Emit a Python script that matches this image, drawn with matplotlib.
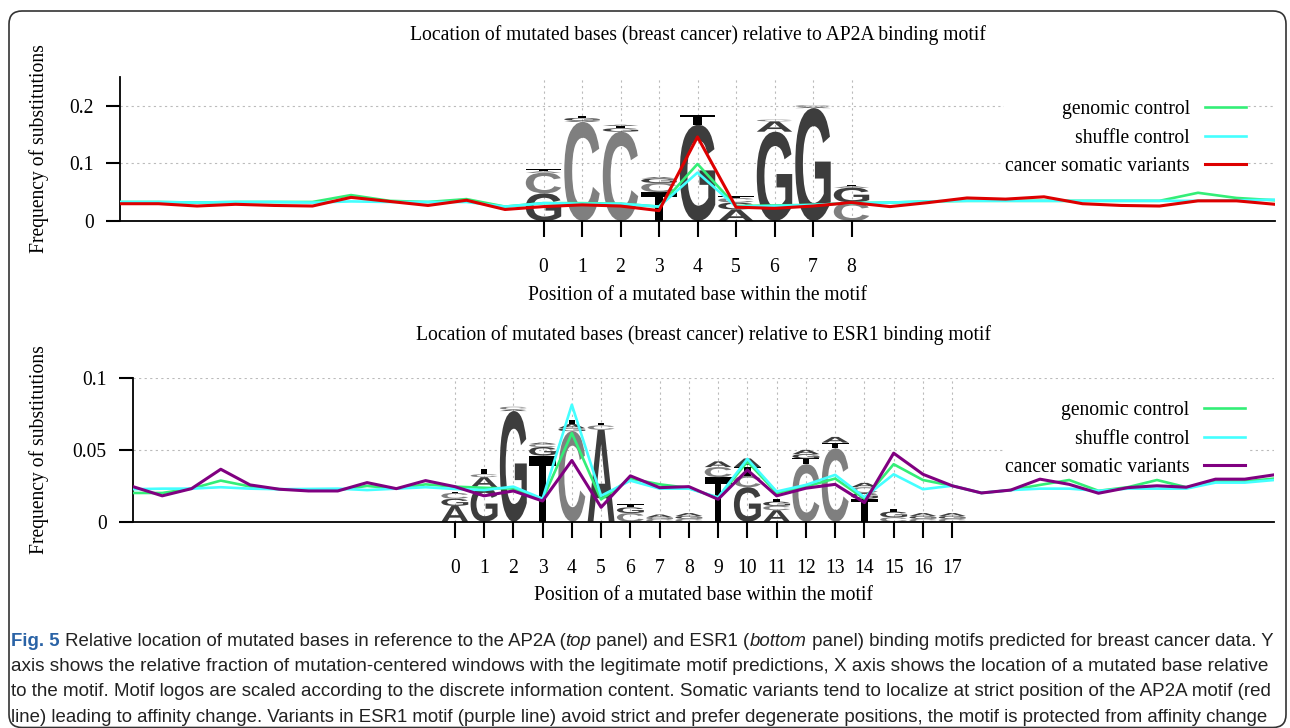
import matplotlib
matplotlib.use("Agg")
import matplotlib.pyplot as plt
import matplotlib.transforms as mtransforms
from matplotlib.textpath import TextPath
from matplotlib.patches import PathPatch, FancyBboxPatch
from matplotlib.font_manager import FontProperties

plt.rcParams['font.family'] = ['Liberation Serif', 'DejaVu Serif']

# ---- data: AP2A panel (positions -11 .. 19) ----
ap2a_pos = list(range(-11, 20))
ap2a_genomic = [0.033, 0.033, 0.032, 0.033, 0.033, 0.033, 0.045, 0.035, 0.033, 0.038, 0.025,
                0.031, 0.031, 0.030, 0.025, 0.099, 0.026, 0.027, 0.028, 0.031, 0.032, 0.034,
                0.035, 0.035, 0.035, 0.035, 0.035, 0.035, 0.049, 0.040, 0.036]
ap2a_shuffle = [0.033, 0.033, 0.032, 0.033, 0.033, 0.032, 0.034, 0.033, 0.033, 0.033, 0.025,
                0.031, 0.030, 0.030, 0.025, 0.084, 0.025, 0.026, 0.028, 0.031, 0.032, 0.034,
                0.035, 0.035, 0.035, 0.035, 0.035, 0.035, 0.035, 0.036, 0.037]
ap2a_cancer = [0.030, 0.030, 0.026, 0.029, 0.027, 0.026, 0.041, 0.034, 0.027, 0.036, 0.020,
               0.025, 0.028, 0.026, 0.018, 0.146, 0.024, 0.022, 0.026, 0.032, 0.025, 0.032,
               0.040, 0.038, 0.042, 0.030, 0.027, 0.026, 0.035, 0.035, 0.029]
ap2a_logo = [
    [('G', 0.048), ('C', 0.036), ('A', 0.002), ('T', 0.004)],
    [('C', 0.172), ('A', 0.002), ('G', 0.005), ('T', 0.004)],
    [('C', 0.155), ('G', 0.006), ('T', 0.004), ('A', 0.002)],
    [('T', 0.050), ('C', 0.016), ('G', 0.008), ('A', 0.002)],
    [('G', 0.167), ('T', 0.017)],
    [('A', 0.020), ('G', 0.012), ('C', 0.008), ('T', 0.003)],
    [('G', 0.155), ('A', 0.018), ('C', 0.003)],
    [('G', 0.196), ('A', 0.002), ('C', 0.003)],
    [('C', 0.032), ('G', 0.026), ('A', 0.002), ('T', 0.003)],
]

# ---- data: ESR1 panel (positions -11 .. 28) ----
esr1_pos = list(range(-11, 29))
esr1_genomic = [0.020, 0.020, 0.023, 0.0286, 0.0245, 0.0226, 0.022, 0.022, 0.0249, 0.023,
                0.026, 0.0244, 0.0236, 0.023, 0.0155, 0.0616, 0.0155, 0.030, 0.026, 0.0235,
                0.0165, 0.0419, 0.020, 0.0245, 0.030, 0.016, 0.040, 0.029, 0.025, 0.020,
                0.022, 0.0256, 0.029, 0.0215, 0.024, 0.029, 0.024, 0.028, 0.028, 0.030]
esr1_shuffle = [0.0226, 0.023, 0.023, 0.024, 0.023, 0.0226, 0.0228, 0.023, 0.022, 0.023,
                0.024, 0.0228, 0.022, 0.0244, 0.016, 0.0814, 0.018, 0.0286, 0.023, 0.023,
                0.017, 0.0437, 0.021, 0.0256, 0.0326, 0.017, 0.033, 0.0226, 0.025, 0.020,
                0.022, 0.023, 0.023, 0.0215, 0.023, 0.023, 0.023, 0.0272, 0.0272, 0.029]
esr1_cancer = [0.0244, 0.018, 0.023, 0.0365, 0.0256, 0.0226, 0.0214, 0.0214, 0.0272, 0.023,
               0.0286, 0.0244, 0.018, 0.0214, 0.0144, 0.0426, 0.010, 0.0319, 0.0237, 0.0244,
               0.0156, 0.036, 0.018, 0.0233, 0.026, 0.0133, 0.0477, 0.033, 0.025, 0.020,
               0.022, 0.0296, 0.026, 0.0198, 0.0237, 0.025, 0.024, 0.0296, 0.0296, 0.0326]
esr1_logo = [
    [('A', 0.011), ('G', 0.005), ('C', 0.004), ('T', 0.001)],
    [('G', 0.024), ('A', 0.007), ('C', 0.002), ('T', 0.004)],
    [('G', 0.077), ('A', 0.001), ('C', 0.002)],
    [('T', 0.046), ('G', 0.006), ('C', 0.002), ('A', 0.001)],
    [('C', 0.063), ('G', 0.002), ('A', 0.003), ('T', 0.003)],
    [('A', 0.064), ('C', 0.003), ('T', 0.002)],
    [('C', 0.006), ('G', 0.004), ('T', 0.002)],
    [('C', 0.002), ('G', 0.001), ('A', 0.002)],
    [('C', 0.002), ('G', 0.002), ('A', 0.002)],
    [('T', 0.031), ('C', 0.007), ('A', 0.004)],
    [('G', 0.024), ('C', 0.008), ('T', 0.006), ('A', 0.006)],
    [('A', 0.008), ('C', 0.003), ('G', 0.003), ('T', 0.002)],
    [('C', 0.040), ('T', 0.004), ('G', 0.003), ('A', 0.003)],
    [('C', 0.051), ('T', 0.004), ('A', 0.004)],
    [('T', 0.016), ('G', 0.004), ('C', 0.004), ('A', 0.003)],
    [('C', 0.003), ('G', 0.004), ('T', 0.002)],
    [('C', 0.002), ('G', 0.002), ('A', 0.002)],
    [('C', 0.002), ('G', 0.002), ('A', 0.002)],
]

legend_labels = ['genomic control', 'shuffle control', 'cancer somatic variants']
titles = ['Location of mutated bases (breast cancer) relative to AP2A binding motif',
          'Location of mutated bases (breast cancer) relative to ESR1 binding motif']
xlabel = 'Position of a mutated base within the motif'
ylabel = 'Frequency of substitutions'

caption_lines = [
    [("Fig. 5", 'fig'), (" Relative location of mutated bases in reference to the AP2A (", 'n'),
     ("top", 'i'), (" panel) and ESR1 (", 'n'), ("bottom", 'i'),
     (" panel) binding motifs predicted for breast cancer data. Y", 'n')],
    [("axis shows the relative fraction of mutation-centered windows with the legitimate motif "
      "predictions, X axis shows the location of a mutated base relative", 'n')],
    [("to the motif. Motif logos are scaled according to the discrete information content. "
      "Somatic variants tend to localize at strict position of the AP2A motif (red", 'n')],
    [("line) leading to affinity change. Variants in ESR1 motif (purple line) avoid strict and "
      "prefer degenerate positions, the motif is protected from affinity change", 'n')],
]

LETTER_COLORS = {'A': '#3d3d3d', 'C': '#7f7f7f', 'G': '#3d3d3d', 'T': '#000000'}
LOGO_FONT = FontProperties(family=['Liberation Sans', 'DejaVu Sans'], weight='bold')
FS = 14.1

W, H = 1290, 728
fig = plt.figure(figsize=(W / 100, H / 100), dpi=100)


def px_axes(x0, y0, x1, y1):
    return fig.add_axes([x0 / W, 1 - y1 / H, (x1 - x0) / W, (y1 - y0) / H])


def draw_letter(ax, letter, x, y, h, width):
    tp = TextPath((0, 0), letter, size=1, prop=LOGO_FONT)
    bb = tp.get_extents()
    tr = (mtransforms.Affine2D().translate(-bb.x0, -bb.y0)
          .scale(width / bb.width, h / bb.height).translate(x - width / 2, y))
    ax.add_patch(PathPatch(tr.transform_path(tp), fc=LETTER_COLORS[letter],
                           ec='none', zorder=2))


def draw_logo(ax, logo, width):
    for i, stack in enumerate(logo):
        base = 0
        for letter, h in stack:
            draw_letter(ax, letter, i, base, h, width)
            base += h


def panel(ax, pos, series, colors, logo, ymax, yticks, ytlabels, width):
    draw_logo(ax, logo, width)
    lws = [1.9, 1.9, 2.2]
    for vals, c, lw, lab in zip(series, colors, lws, legend_labels):
        ax.plot(pos, vals, color=c, lw=lw, label=lab, zorder=3)
    ax.set_xlim(pos[0], pos[-1])
    ax.set_ylim(0, ymax)
    ax.set_xticks(range(len(logo)))
    ax.set_yticks(yticks)
    ax.set_yticklabels(ytlabels)
    ax.tick_params(axis='x', direction='out', length=11.5, width=1.5, pad=15, labelsize=FS)
    ax.tick_params(axis='y', direction='out', length=10, width=1.5, pad=9, labelsize=FS)
    for s in ['top', 'right']:
        ax.spines[s].set_visible(False)
    for s in ['left', 'bottom']:
        ax.spines[s].set_linewidth(1.3)
    ax.set_axisbelow(True)
    ax.grid(True, color='#bbbbbb', lw=0.8, ls=(0, (2, 3)))
    leg = ax.legend(loc='upper right', bbox_to_anchor=(0.985, 0.92), markerfirst=False,
                    frameon=True, framealpha=1, edgecolor='none', fontsize=FS,
                    handlelength=2.1, handletextpad=0.75, labelspacing=0.48,
                    borderpad=0.1)
    # legend box hides the grid but the data lines stay on top
    leg.set_zorder(2.5)


ax1 = px_axes(120, 77, 1275, 221)
panel(ax1, ap2a_pos, [ap2a_genomic, ap2a_shuffle, ap2a_cancer],
      ['#33ee77', '#44ffff', '#dd0000'], ap2a_logo, 0.25,
      [0, 0.1, 0.2], ['0', '0.1', '0.2'], 0.92)

ax2 = px_axes(133, 378, 1274, 521.7)
panel(ax2, esr1_pos, [esr1_genomic, esr1_shuffle, esr1_cancer],
      ['#33ee77', '#44ffff', '#800080'], esr1_logo, 0.1,
      [0, 0.05, 0.1], ['0', '0.05', '0.1'], 0.92)

for ax, title, ty, xy, ycen in [(ax1, titles[0], 35, 295, 149), (ax2, titles[1], 335, 596, 450)]:
    bb = ax.get_position()
    xc = (bb.x0 + bb.x1) / 2
    fig.text(xc, 1 - ty / H, title, ha='center', va='center', fontsize=FS)
    fig.text(xc, 1 - xy / H, xlabel, ha='center', va='center', fontsize=FS)
    fig.text(39 / W, 1 - ycen / H, ylabel, ha='center', va='center',
             rotation=90, fontsize=FS)

# caption: each line sized to span the box width
cap_family = ['Liberation Sans', 'DejaVu Sans']
styles = {
    'fig': dict(family=cap_family, weight='bold', color='#2a63a6'),
    'n': dict(family=cap_family, color='#222222'),
    'i': dict(family=cap_family, style='italic', color='#222222'),
}
renderer = fig.canvas.get_renderer()


def put_line(line, y, size):
    x = 11
    items = []
    for txt, st in line:
        t = fig.text(x / W, 1 - y / H, txt, ha='left', va='center', fontsize=size, **styles[st])
        items.append(t)
        x = t.get_window_extent(renderer=renderer).x1
    return items, x


right_edges = [1282, 1281, 1280, 1278]
for k, line in enumerate(caption_lines):
    y = 641 + k * 25.5
    items, x_end = put_line(line, y, 14)
    for t in items:
        t.remove()
    put_line(line, y, 14 * (right_edges[k] - 11) / (x_end - 11))

fig.patches.append(FancyBboxPatch((0.09, 0.005), 12.77, 7.165,
                                  boxstyle='round,pad=0,rounding_size=0.13',
                                  transform=fig.dpi_scale_trans, fc='none',
                                  ec='#333333', lw=1.2))

fig.savefig('out.png', dpi=100)
